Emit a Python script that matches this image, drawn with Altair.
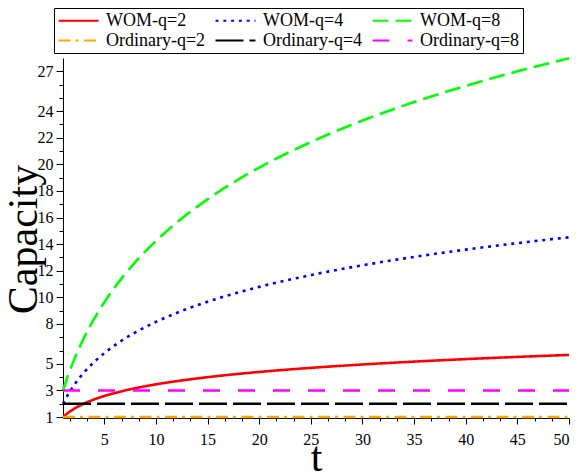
import altair as alt
import pandas as pd

# ---- data ----
series_order = ["WOM-q=2", "Ordinary-q=2", "WOM-q=4", "Ordinary-q=4", "WOM-q=8", "Ordinary-q=8"]

t_wom = [1, 1.5, 2, 3, 4, 5, 6, 7, 8, 10, 12, 14, 16, 18, 20, 25, 30, 35, 40, 45, 50]
wom_q2 = [1.000, 1.322, 1.585, 2.000, 2.322, 2.585, 2.807, 3.000, 3.170, 3.459, 3.700, 3.907,
          4.087, 4.248, 4.392, 4.700, 4.954, 5.170, 5.358, 5.524, 5.672]
wom_q4 = [2.000, 2.714, 3.322, 4.322, 5.129, 5.807, 6.392, 6.907, 7.366, 8.160, 8.830, 9.409,
          9.920, 10.377, 10.790, 11.678, 12.413, 13.042, 13.591, 14.078, 14.516]
wom_q8 = [3.000, 4.154, 5.170, 6.907, 8.366, 9.630, 10.745, 11.745, 12.652, 14.247, 15.621, 16.827,
          17.904, 18.875, 19.760, 21.682, 23.295, 24.685, 25.906, 26.995, 27.978]

t_ord = [1, 50]
ord_q2 = [1, 1]
ord_q4 = [2, 2]
ord_q8 = [3, 3]

y_tick_values = list(range(1, 28))
y_tick_labels = [1, 3, 5, 8, 10, 12, 14, 16, 18, 20, 22, 24, 27]
x_tick_labels = [5, 10, 15, 20, 25, 30, 35, 40, 45, 50]

# ---- styles ----
color_map = {
    "WOM-q=2": "#ff0000", "Ordinary-q=2": "#ffa500",
    "WOM-q=4": "#0000ff", "Ordinary-q=4": "#000000",
    "WOM-q=8": "#00ff00", "Ordinary-q=8": "#ff00ff",
}
dash_map = {
    "WOM-q=2": [1, 0], "Ordinary-q=2": [12, 5, 3, 5.5],
    "WOM-q=4": [3, 4.8], "Ordinary-q=4": [28, 6],
    "WOM-q=8": [16, 7], "Ordinary-q=8": [17, 18],
}
colors = [color_map[s] for s in series_order]
dashes = [dash_map[s] for s in series_order]

rows = []
for name, ts, vs in [
    ("WOM-q=2", t_wom, wom_q2),
    ("WOM-q=4", t_wom, wom_q4),
    ("WOM-q=8", t_wom, wom_q8),
    ("Ordinary-q=2", t_ord, ord_q2),
    ("Ordinary-q=4", t_ord, ord_q4),
    ("Ordinary-q=8", t_ord, ord_q8),
]:
    for t, v in zip(ts, vs):
        rows.append({"t": t, "capacity": v, "series": name})
df = pd.DataFrame(rows)

x_minor = [round(m - d, 4) for m in x_tick_labels for d in (5 / 3, 10 / 3) if m - d >= 1]
x_tick_values = sorted(x_tick_labels + x_minor)

font = "Times New Roman"
ylab_list = ",".join(str(v) for v in y_tick_labels)
xlab_list = ",".join(str(v) for v in x_tick_labels)

legend = alt.Legend(
    title=None,
    orient="none",
    legendX=-9,
    legendY=-50,
    columns=3,
    columnPadding=5,
    rowPadding=1,
    symbolType="M-1,0H4",
    symbolSize=256,
    symbolStrokeWidth=2.2,
    labelFont=font,
    labelFontSize=18,
    labelColor="black",
    labelOffset=30,
    strokeColor="black",
    padding=3,
    fillColor="white",
)

chart = (
    alt.Chart(df)
    .mark_line(strokeWidth=2.6, interpolate="monotone")
    .encode(
        x=alt.X(
            "t:Q",
            scale=alt.Scale(domain=[1, 50], nice=False, zero=False),
            axis=alt.Axis(
                values=x_tick_values,
                labelExpr=f"indexof([{xlab_list}], datum.value) >= 0 ? datum.label : ''",
                tickSize={"condition": {"test": f"indexof([{xlab_list}], datum.value) >= 0", "value": 6}, "value": 3},
                grid=False,
                domainColor="black",
                tickColor="black",
                labelColor="black",
                labelFont=font,
                labelFontSize=16,
                labelPadding=7,
                labelFlush=True,
                labelOverlap=False,
                title="t",
                titleFont=font,
                titleFontSize=42,
                titleFontWeight="normal",
                titleColor="black",
                titleX=253,
                titleY=52,
                titleBaseline="alphabetic",
            ),
        ),
        y=alt.Y(
            "capacity:Q",
            scale=alt.Scale(domain=[0.93, 28], nice=False, zero=False),
            axis=alt.Axis(
                values=y_tick_values,
                labelExpr=f"indexof([{ylab_list}], datum.value) >= 0 ? datum.label : ''",
                tickSize={"condition": {"test": f"indexof([{ylab_list}], datum.value) >= 0", "value": 7}, "value": 4},
                grid=False,
                domainColor="black",
                tickColor="black",
                labelColor="black",
                labelFont=font,
                labelFontSize=16,
                labelPadding=3,
                labelOverlap=False,
                title="Capacity",
                titleFont=font,
                titleFontSize=42,
                titleFontWeight="normal",
                titleColor="black",
                titleX=-27,
                titleY=181,
                titleBaseline="alphabetic",
            ),
        ),
        color=alt.Color("series:N", scale=alt.Scale(domain=series_order, range=colors), legend=legend),
        strokeDash=alt.StrokeDash("series:N", scale=alt.Scale(domain=series_order, range=dashes), legend=legend),
    )
    .properties(
        width=506,
        height=360,
        autosize=alt.AutoSizeParams(type="none"),
        padding={"left": 55, "top": 50, "right": 1, "bottom": 55},
        background="white",
    )
    .configure(
        font=font,
        style={"guide-label": {"font": font}, "guide-title": {"font": font}},
    )
    .configure_axis(labelFont=font, titleFont=font)
    .configure_legend(labelFont=font)
    .configure_view(stroke=None)
)

chart.save("out.html", embed_options={"renderer": "svg", "actions": False})
